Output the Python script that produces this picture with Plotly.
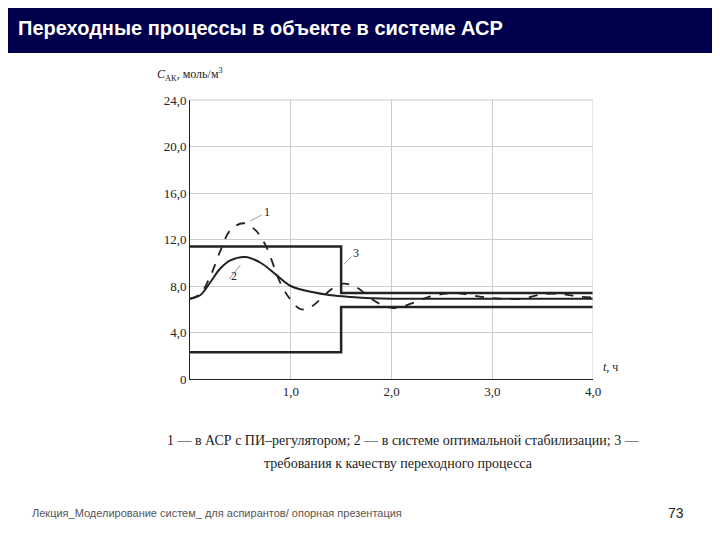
import plotly.graph_objects as go

# curve 1: ASR with PI controller (dashed)
t1 = [0, 0.1, 0.2, 0.3, 0.4, 0.53, 0.65, 0.75, 0.9, 1.0, 1.1, 1.2, 1.3, 1.4, 1.52, 1.65, 1.8, 1.9, 2.03, 2.2, 2.35, 2.5, 2.65, 2.8, 2.95, 3.1, 3.3, 3.5, 3.7, 3.85, 4.0]
c1 = [6.9, 7.3, 8.8, 11.0, 12.8, 13.4, 12.8, 11.5, 8.2, 6.8, 6.0, 6.2, 6.9, 7.7, 8.2, 7.9, 6.9, 6.4, 6.1, 6.5, 7.0, 7.3, 7.4, 7.2, 7.0, 6.9, 6.9, 7.3, 7.3, 7.1, 7.0]
# curve 2: optimal stabilisation (solid)
t2 = [0, 0.1, 0.2, 0.3, 0.4, 0.55, 0.7, 0.85, 1.0, 1.2, 1.4, 1.6, 1.8, 2.0, 2.5, 3.0, 3.5, 4.0]
c2 = [6.9, 7.2, 8.3, 9.5, 10.2, 10.5, 10.0, 9.0, 8.0, 7.5, 7.2, 7.05, 6.95, 6.9, 6.9, 6.9, 6.9, 6.9]
# curve 3: quality requirements (upper / lower bounds)
t3 = [0, 1.5, 1.5, 4.0]
upper = [11.4, 11.4, 7.4, 7.4]
lower = [2.3, 2.3, 6.2, 6.2]

fig = go.Figure()
fig.add_trace(go.Scatter(x=t3, y=upper, mode="lines", line=dict(color="#222", width=2.5)))
fig.add_trace(go.Scatter(x=t3, y=lower, mode="lines", line=dict(color="#222", width=2.5)))
fig.add_trace(go.Scatter(x=t2, y=c2, mode="lines", line=dict(color="#222", width=2, shape="spline")))
fig.add_trace(go.Scatter(x=t1, y=c1, mode="lines", line=dict(color="#222", width=1.8, dash="dash", shape="spline")))

serif = "Liberation Serif"
for txt, x, y, ax, ay in [("1", 0.76, 14.4, 0.6, 13.6), ("2", 0.44, 8.9, 0.5, 9.8), ("3", 1.65, 10.8, 1.53, 9.9)]:
    fig.add_annotation(x=x, y=y, text=txt, showarrow=False, font=dict(family=serif, size=12, color="#222"))
    fig.add_shape(type="line", x0=ax, y0=ay, x1=x - 0.05, y1=y - 0.3, line=dict(color="#999", width=1))

fig.update_layout(
    width=720, height=540, showlegend=False,
    paper_bgcolor="white", plot_bgcolor="white",
    margin=dict(l=182, r=135, t=92, b=169, autoexpand=False),
    xaxis=dict(range=[0, 4], tickvals=[1, 2, 3, 4], ticktext=["1,0", "2,0", "3,0", "4,0"],
               showgrid=True, gridcolor="#ccc", zeroline=False, showline=True, linecolor="#222",
               mirror=False, tickfont=dict(family=serif, size=13, color="#222"), ticks=""),
    yaxis=dict(range=[0, 24], tickvals=[0, 4, 8, 12, 16, 20, 24],
               ticktext=["0", "4,0", "8,0", "12,0", "16,0", "20,0", "24,0"],
               showgrid=True, gridcolor="#ccc", zeroline=False, showline=True, linecolor="#222",
               tickfont=dict(family=serif, size=13, color="#222"), ticks=""),
)
fig.add_shape(type="line", xref="x", yref="paper", x0=4, x1=4, y0=0, y1=1, line=dict(color="#ccc", width=1))
fig.add_shape(type="line", xref="x", yref="paper", x0=0, x1=4, y0=1, y1=1, line=dict(color="#ccc", width=1))

# title bar
fig.add_shape(type="rect", xref="paper", yref="paper", x0=-182/403, x1=(720-182)/403, y0=(540-169-45)/279, y1=(540-169)/279,
              fillcolor="#00004d", line=dict(width=0), layer="above")
fig.add_annotation(xref="paper", yref="paper", x=-174/403, y=(540-169-20)/279, xanchor="left", yanchor="middle",
                   text="<b>Переходные процессы в объекте в системе АСР</b>", showarrow=False,
                   font=dict(family="Liberation Sans", size=20, color="white"))
fig.add_annotation(xref="paper", yref="paper", x=-35/403, y=(540-169-66)/279, xanchor="left", yanchor="middle",
                   text="<i>С</i><sub>АК</sub>, моль/м<sup>3</sup>", showarrow=False, font=dict(family=serif, size=12, color="#222"))
fig.add_annotation(xref="paper", yref="paper", x=1.02, y=0.01, xanchor="left", yanchor="bottom",
                   text="<i>t</i>, ч", showarrow=False, font=dict(family=serif, size=12, color="#222"))
fig.add_annotation(xref="paper", yref="paper", x=(395-182)/403, y=(540-169-432)/279, yanchor="middle",
                   text="1 — в АСР с ПИ–регулятором; 2 — в системе оптимальной стабилизации; 3 —", showarrow=False,
                   font=dict(family=serif, size=14, color="#222"))
fig.add_annotation(xref="paper", yref="paper", x=(390-182)/403, y=(540-169-455)/279, yanchor="middle",
                   text="требования к качеству переходного процесса", showarrow=False,
                   font=dict(family=serif, size=14, color="#222"))
fig.add_annotation(xref="paper", yref="paper", x=-160/403, y=(540-169-505)/279, xanchor="left", yanchor="middle",
                   text="Лекция_Моделирование систем_ для аспирантов/ опорная презентация", showarrow=False,
                   font=dict(family="Liberation Sans", size=11, color="#555"))
fig.add_annotation(xref="paper", yref="paper", x=(668-182)/403, y=(540-169-505)/279, xanchor="center", yanchor="middle",
                   text="73", showarrow=False, font=dict(family="Liberation Sans", size=14, color="#222"))

fig.write_html("out.html")
